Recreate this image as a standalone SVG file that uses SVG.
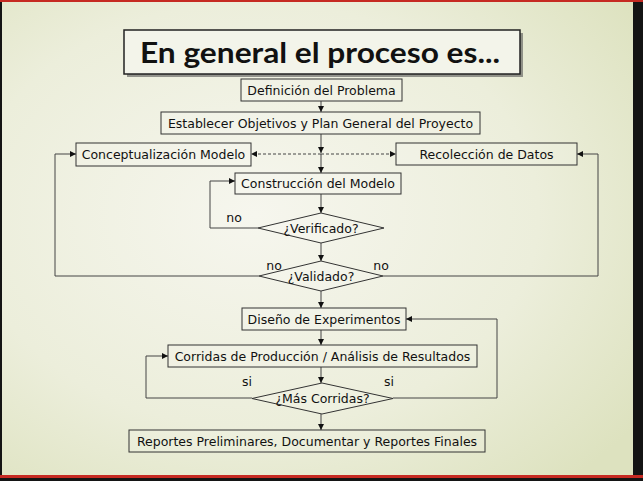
<svg xmlns="http://www.w3.org/2000/svg" width="643" height="481" viewBox="0 0 643 481">
<defs>
<radialGradient id="bg" cx="0.4" cy="0.45" r="0.75">
<stop offset="0" stop-color="#f6f6ee"/>
<stop offset="0.6" stop-color="#eceedb"/>
<stop offset="1" stop-color="#dde2bf"/>
</radialGradient>
<marker id="ah" viewBox="0 0 6 6" refX="6" refY="3" markerWidth="6" markerHeight="6" markerUnits="userSpaceOnUse" orient="auto">
<path d="M0,0 L6,3 L0,6 z" fill="#111"/>
</marker>
</defs>
<style>
.box{fill:#ffffff;fill-opacity:0.12;stroke:#333;stroke-width:1}
.lbl{font-family:"DejaVu Sans",Verdana,sans-serif;font-size:12.5px;fill:#111;text-anchor:middle}
.con{fill:none;stroke:#444;stroke-width:1}
.dash{stroke-dasharray:3,2}
</style>
<rect x="0" y="0" width="643" height="481" fill="#141414"/>
<rect x="2" y="2" width="631" height="473" fill="url(#bg)"/>
<rect x="0" y="0" width="643" height="2" fill="#c62a22"/>
<rect x="0" y="475" width="643" height="3" fill="#c62a22"/>

<g id="title">
<rect x="127" y="33" width="396" height="44" fill="#555" opacity="0.6"/>
<rect x="124" y="30" width="396" height="44" fill="#f3f4ea" stroke="#222" stroke-width="1.5"/>
<text x="320" y="63" font-family="Lato,'DejaVu Sans',sans-serif" font-weight="bold" font-size="29" fill="#111" text-anchor="middle" textLength="360" lengthAdjust="spacingAndGlyphs">En general el proceso es...</text>
</g>

<g id="connectors">
<line class="con" x1="321" y1="101" x2="321" y2="112" marker-end="url(#ah)"/>
<line class="con" x1="321" y1="134" x2="321" y2="153" marker-end="url(#ah)"/>
<line class="con" x1="321" y1="154" x2="321" y2="173" marker-end="url(#ah)"/>
<line class="con dash" x1="321" y1="154" x2="251" y2="154" marker-end="url(#ah)"/>
<line class="con dash" x1="321" y1="154" x2="396" y2="154" marker-end="url(#ah)"/>
<line class="con" x1="321" y1="194" x2="321" y2="213" marker-end="url(#ah)"/>
<polyline class="con" points="258,228 210,228 210,181 235,181" marker-end="url(#ah)"/>
<line class="con" x1="321" y1="243" x2="321" y2="261" marker-end="url(#ah)"/>
<polyline class="con" points="259,276 55,276 55,154 76,154" marker-end="url(#ah)"/>
<polyline class="con" points="383,276 598,276 598,154 577,154" marker-end="url(#ah)"/>
<line class="con" x1="321" y1="291" x2="321" y2="308" marker-end="url(#ah)"/>
<line class="con" x1="321" y1="330" x2="321" y2="345" marker-end="url(#ah)"/>
<line class="con" x1="321" y1="367" x2="321" y2="383" marker-end="url(#ah)"/>
<polyline class="con" points="252,398 146,398 146,356 168,356" marker-end="url(#ah)"/>
<polyline class="con" points="393,398 497,398 497,319 406,319" marker-end="url(#ah)"/>
<line class="con" x1="321" y1="414" x2="321" y2="430" marker-end="url(#ah)"/>
<text class="lbl" x="234" y="222">no</text>
<text class="lbl" x="274" y="270">no</text>
<text class="lbl" x="381" y="270">no</text>
<text class="lbl" x="247" y="386">si</text>
<text class="lbl" x="389" y="386">si</text>
</g>

<g id="n-definicion">
<rect class="box" x="241" y="79" width="161" height="22"/>
<text class="lbl" x="321.5" y="94.5">Definición del Problema</text>
</g>
<g id="n-establecer">
<rect class="box" x="161" y="112" width="319" height="22"/>
<text class="lbl" x="320.5" y="127.5">Establecer Objetivos y Plan General del Proyecto</text>
</g>
<g id="n-conceptualizacion">
<rect class="box" x="76" y="143" width="175" height="23"/>
<text class="lbl" x="163.5" y="159">Conceptualización Modelo</text>
</g>
<g id="n-recoleccion">
<rect class="box" x="396" y="143" width="181" height="22"/>
<text class="lbl" x="486.5" y="158.5">Recolección de Datos</text>
</g>
<g id="n-construccion">
<rect class="box" x="235" y="173" width="166" height="21"/>
<text class="lbl" x="318" y="188">Construcción del Modelo</text>
</g>
<g id="n-verificado">
<polygon class="box" points="321,213 384,228 321,243 258,228"/>
<text class="lbl" x="321" y="232.5">¿Verificado?</text>
</g>
<g id="n-validado">
<polygon class="box" points="321,261 383,276 321,291 259,276"/>
<text class="lbl" x="321" y="280.5">¿Validado?</text>
</g>
<g id="n-diseno">
<rect class="box" x="242" y="308" width="164" height="22"/>
<text class="lbl" x="324" y="323.5">Diseño de Experimentos</text>
</g>
<g id="n-corridas">
<rect class="box" x="168" y="345" width="309" height="22"/>
<text class="lbl" x="322.5" y="360.5">Corridas de Producción / Análisis de Resultados</text>
</g>
<g id="n-mas-corridas">
<polygon class="box" points="322,383 393,398.5 322,414 252,398.5"/>
<text class="lbl" x="322.5" y="403">¿Más Corridas?</text>
</g>
<g id="n-reportes">
<rect class="box" x="129" y="430" width="356" height="22"/>
<text class="lbl" x="307" y="445.5">Reportes Preliminares, Documentar y Reportes Finales</text>
</g>
</svg>
